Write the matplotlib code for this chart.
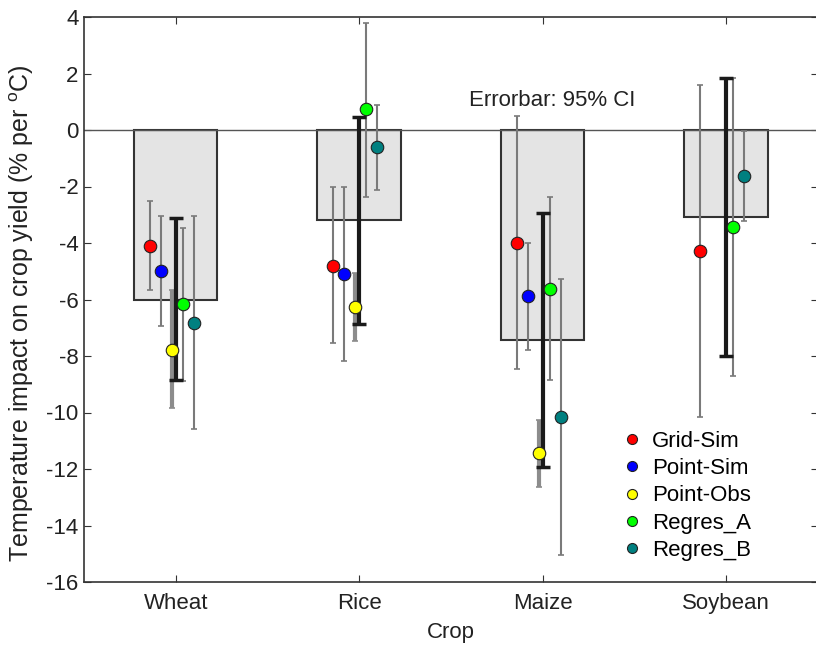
## Temperature impact on crop yield, bars + model points with 95% CI ##

import numpy as np
import matplotlib
matplotlib.use("Agg")
import matplotlib.pyplot as plt

plt.rcParams['font.family'] = ['Liberation Sans', 'DejaVu Sans']
plt.rcParams['mathtext.fontset'] = 'custom'
plt.rcParams['mathtext.rm'] = 'Liberation Sans'
plt.rcParams['axes.unicode_minus'] = False

# data

crops = ['Wheat', 'Rice', 'Maize', 'Soybean']

bar_mean = [-6.02, -3.19, -7.43, -3.08]
bar_lo   = [-8.85, -6.88, -11.92, -8.00]
bar_hi   = [-3.10, 0.47, -2.95, 1.83]

names  = ['Grid-Sim', 'Point-Sim', 'Point-Obs', 'Regres_A', 'Regres_B']
colors = ['#ff0000', '#0000ff', '#ffff00', '#00ff00', '#008080']

grid_sim    = [-4.10, -4.80, -3.99, -4.27]
grid_sim_lo = [-5.66, -7.55, -8.46, -10.15]
grid_sim_hi = [-2.50, -2.03, 0.51, 1.59]

point_sim    = [-4.98, -5.10, -5.88, np.nan]
point_sim_lo = [-6.93, -8.17, -7.79, np.nan]
point_sim_hi = [-3.03, -2.03, -4.01, np.nan]

point_obs    = [-7.79, -6.28, -11.45, np.nan]
point_obs_lo = [-9.84, -7.46, -12.63, np.nan]
point_obs_hi = [-5.66, -5.07, -10.27, np.nan]

regres_a    = [-6.17, 0.73, -5.63, -3.42]
regres_a_lo = [-8.88, -2.36, -8.85, -8.71]
regres_a_hi = [-3.48, 3.80, -2.36, 1.85]

regres_b    = [-6.83, -0.59, -10.17, -1.62]
regres_b_lo = [-10.60, -2.12, -15.04, -3.21]
regres_b_hi = [-3.04, 0.88, -5.27, -0.02]

series = [(grid_sim, grid_sim_lo, grid_sim_hi),
          (point_sim, point_sim_lo, point_sim_hi),
          (point_obs, point_obs_lo, point_obs_hi),
          (regres_a, regres_a_lo, regres_a_hi),
          (regres_b, regres_b_lo, regres_b_hi)]
offsets = [-0.14, -0.08, -0.02, 0.04, 0.10]

# figure

fs = 16
fig = plt.figure(figsize=(8.16, 6.45), dpi=100)
ax = fig.add_axes([84/816, 1-582/645, 1.002-84/816, (582-17)/645])

x = np.arange(1, len(crops)+1)

ax.bar(x, bar_mean, width=0.455, color='#e4e4e4', edgecolor='#333333',
       linewidth=1.5, zorder=1)
ax.axhline(0, color='#555555', linewidth=1.0, zorder=2)

for k, (vals, lo, hi) in enumerate(series):
    vals = np.array(vals); lo = np.array(lo); hi = np.array(hi)
    xs = x + offsets[k]
    err = [vals - lo, hi - vals]
    if k == 2:
        ax.errorbar(xs, vals, yerr=err, fmt='none', ecolor='#8c8c8c',
                    elinewidth=3.0, capsize=2.5, capthick=1.2, zorder=3)
    else:
        ax.errorbar(xs, vals, yerr=err, fmt='none', ecolor='#7a7a7a',
                    elinewidth=1.5, capsize=2.5, capthick=1.2, zorder=3)

bm = np.array(bar_mean)
ax.errorbar(x, bm, yerr=[bm - np.array(bar_lo), np.array(bar_hi) - bm],
            fmt='none', ecolor='#1a1a1a', elinewidth=3.0, capsize=5,
            capthick=2.5, zorder=4)

for k, (vals, lo, hi) in enumerate(series):
    ax.plot(x + offsets[k], vals, 'o', color=colors[k], markersize=9,
            markeredgecolor='#222222', markeredgewidth=0.8, zorder=5,
            label=names[k])

ax.text(3.05, 1.06, 'Errorbar: 95% CI', fontsize=fs, ha='center', va='center',
        color='#222222')

ax.set_xlim(0.5, 4.5)
ax.set_ylim(-16, 4)
ax.set_xticks(x)
ax.set_xticklabels(crops)
ax.set_yticks(np.arange(-16, 5, 2))
ax.tick_params(direction='in', top=True, right=True, length=5,
               labelsize=fs, colors='#333333', labelcolor='#222222')
ax.tick_params(axis='x', pad=8)
ax.tick_params(axis='y', pad=4)
for s in ax.spines.values():
    s.set_color('#333333')
    s.set_linewidth(1.2)

ax.set_xlabel('Crop', fontsize=fs, color='#222222', labelpad=6)
ax.set_ylabel(r'Temperature impact on crop yield (% per $^{\mathrm{o}}$C)',
              fontsize=18, color='#222222')
ax.yaxis.set_label_coords(-0.065, 0.476)

ax.legend(loc='upper left', bbox_to_anchor=(621/816, 1-431/645),
          bbox_transform=fig.transFigure, frameon=False, fontsize=fs,
          handlelength=1.0, handletextpad=0.4, labelspacing=0.28,
          borderpad=0, borderaxespad=0, markerscale=0.8)

fig.savefig('out.png', dpi=100)
